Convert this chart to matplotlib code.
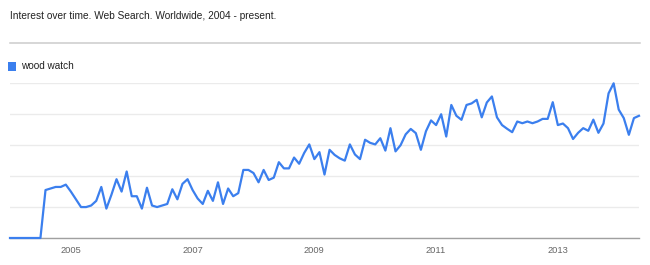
import matplotlib
matplotlib.use("Agg")
import matplotlib.pyplot as plt
from matplotlib.lines import Line2D
from matplotlib.patches import Rectangle

# monthly interest, Jan 2004 .. May 2014
interest = [
    0, 0, 0, 0, 0, 0, 0, 31, 32, 33, 33, 34.5,
    30, 25, 20, 20, 21, 24, 33, 19, 28, 38, 30, 43,
    27, 27, 19, 32.5, 21, 20, 21, 22, 31.5, 25, 35, 38,
    31, 25.5, 22, 30.5, 24, 36, 22, 32, 27, 29, 44, 44,
    42, 36, 44, 37.5, 39, 49, 45, 45, 52, 48, 55, 60.5,
    51, 55.5, 41, 57, 53.7, 51.5, 50, 60.5, 54, 51, 63.5, 61.5,
    60.5, 64.5, 56.5, 71, 56, 60, 67, 70.5, 67.8, 57, 69, 76,
    73, 80, 65.6, 86, 79, 76.4, 86, 87, 89.3, 78, 87.6, 91.5,
    78, 73, 70.6, 68.4, 75.3, 74.2, 75.3, 74.2, 75.3, 77, 77, 87.8,
    73, 74, 71, 64, 68, 71, 69.3, 76.5, 68, 74, 93.5, 100,
    83, 77.5, 66.7, 77.5, 79,
]
months = list(range(len(interest)))
year_labels = ["2005", "2007", "2009", "2011", "2013"]
year_months = [12, 36, 60, 84, 108]
term = "wood watch"
title = "Interest over time. Web Search. Worldwide, 2004 - present."

BLUE = "#3b7fee"
W, H = 650, 265

plt.rcParams["font.family"] = ["Liberation Sans", "DejaVu Sans"]

fig = plt.figure(figsize=(W / 100, H / 100), dpi=100)
fig.patch.set_facecolor("white")

fig.text(10 / W, 1 - 16 / H, title, fontsize=7.3, color="#222222", va="center", ha="left")
fig.add_artist(Line2D([10 / W, 640 / W], [1 - 43 / H] * 2, color="#cccccc", lw=1.1))

fig.add_artist(Rectangle((8 / W, 1 - 70.5 / H), 8 / W, 8.5 / H, transform=fig.transFigure,
                         facecolor=BLUE, edgecolor="none"))
fig.text(21 / W, 1 - 66 / H, term, fontsize=7.2, color="#222222", va="center", ha="left")

ax = fig.add_axes([10 / W, 1 - 238 / H, 629 / W, 154.7 / H])
ax.plot(months, interest, color=BLUE, lw=1.6, clip_on=False, zorder=3)
ax.set_xlim(0, len(interest) - 1)
ax.set_ylim(0, 100)
ax.set_yticks([0, 20, 40, 60, 80, 100])
ax.set_yticklabels([])
ax.grid(True, axis="y", color="#ebebeb", lw=1)
ax.set_xticks(year_months)
ax.set_xticklabels(year_labels)
ax.tick_params(axis="x", length=0, pad=5.5, labelsize=6.7, labelcolor="#666666")
ax.tick_params(axis="y", length=0)
for side in ["top", "left", "right"]:
    ax.spines[side].set_visible(False)
ax.spines["bottom"].set_color("#a0a0a0")
ax.spines["bottom"].set_linewidth(1)
ax.set_axisbelow(True)

fig.savefig("out.png", dpi=100)
